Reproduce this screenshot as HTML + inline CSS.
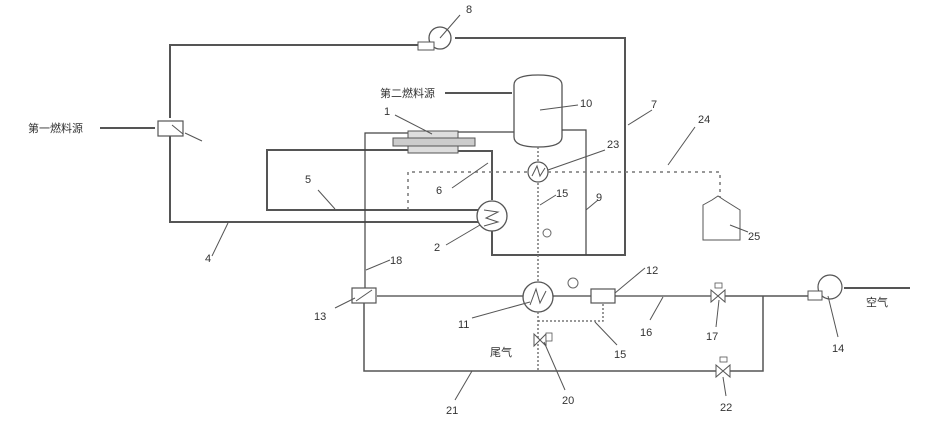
<!DOCTYPE html>
<html><head><meta charset="utf-8"><style>
html,body{margin:0;padding:0;background:#fff}
svg{display:block}
text{font-family:"Liberation Sans","Noto Sans CJK SC",sans-serif;font-size:11px;fill:#333}
.p{stroke:#555;stroke-width:2;fill:none}
.t{stroke:#444;stroke-width:1.2;fill:none}
.d{stroke:#777;stroke-width:1.5;fill:none;stroke-dasharray:3,4}
.l{stroke:#555;stroke-width:1;fill:none}
</style></head><body>
<svg width="925" height="421" viewBox="0 0 925 421" xmlns="http://www.w3.org/2000/svg">
<polyline class="p" points="418,45 170,45 170,118"/>
<polyline class="p" points="455,38 625,38 625,255 492,255 492,231"/>
<circle cx="440" cy="38" r="11" fill="#fff" stroke="#555" stroke-width="1.3"/>
<rect x="418" y="42" width="16" height="8" fill="#fff" stroke="#555" stroke-width="1"/>
<rect x="158" y="121" width="25" height="15" fill="#fff" stroke="#555" stroke-width="1.2"/>
<line class="l" x1="172" y1="125" x2="183" y2="134"/>
<polyline class="p" points="170,136 170,222 478,222"/>
<line class="p" x1="100" y1="128" x2="155" y2="128"/>
<polyline class="p" points="408,150 267,150 267,210 478,210"/>
<polyline class="t" points="410,133 365,133 365,288"/>
<rect x="408" y="131" width="50" height="7" fill="#ddd" stroke="#555" stroke-width="1"/>
<rect x="393" y="138" width="82" height="8" fill="#ccc" stroke="#555" stroke-width="1"/>
<rect x="408" y="146" width="50" height="7" fill="#ddd" stroke="#555" stroke-width="1"/>
<line class="t" x1="458" y1="132" x2="514" y2="132"/>
<polyline class="p" points="458,151 492,151 492,200"/>
<circle cx="492" cy="216" r="15" fill="#fff" stroke="#555" stroke-width="1.3"/>
<polyline class="l" points="484,210 498,212 486,218 498,222 484,226"/>
<path d="M514,85 Q514,75 538,75 Q562,75 562,85 L562,137 Q562,147 538,147 Q514,147 514,137 Z" fill="#fff" stroke="#555" stroke-width="1.3"/>
<line class="p" x1="445" y1="93" x2="512" y2="93"/>
<polyline class="t" points="562,130 586,130 586,255"/>
<line class="d" x1="538" y1="147" x2="538" y2="281" style="stroke-dasharray:2,2"/>
<circle cx="538" cy="172" r="10" fill="#fff" stroke="#555" stroke-width="1.2"/>
<polyline class="l" points="532,176 537,166 540,176 545,168"/>
<circle cx="547" cy="233" r="4" fill="#fff" stroke="#666"/>
<polyline class="d" points="408,210 408,172 528,172"/>
<polyline class="d" points="548,172 720,172 720,200"/>
<path d="M703,240 L703,205 L712,200 L718,196 L724,200 L740,210 L740,240 Z" fill="#fff" stroke="#555" stroke-width="1"/>
<!-- bottom -->
<rect x="352" y="288" width="24" height="15" fill="#fff" stroke="#555" stroke-width="1.2"/>
<line class="l" x1="356" y1="301" x2="372" y2="290"/>
<line class="t" x1="377" y1="296" x2="523" y2="296"/>
<circle cx="538" cy="297" r="15" fill="#fff" stroke="#555" stroke-width="1.3"/>
<polyline class="l" points="530,305 536,289 540,303 546,291"/>
<line class="t" x1="553" y1="296" x2="591" y2="296"/>
<circle cx="573" cy="283" r="5" fill="#fff" stroke="#666"/>
<rect x="591" y="289" width="24" height="14" fill="#fff" stroke="#555" stroke-width="1.2"/>
<line class="t" x1="615" y1="296" x2="711" y2="296"/>
<polygon points="711,290 725,302 725,290 711,302" fill="#fff" stroke="#555"/>
<rect x="715" y="283" width="7" height="5" fill="#fff" stroke="#555" stroke-width="0.8"/>
<line class="p" x1="725" y1="296" x2="808" y2="296" style="stroke-width:1.5"/>
<circle cx="830" cy="287" r="12" fill="#fff" stroke="#555" stroke-width="1.2"/>
<rect x="808" y="291" width="14" height="9" fill="#fff" stroke="#555" stroke-width="1"/>
<line class="p" x1="844" y1="288" x2="910" y2="288"/>
<polyline class="p" points="763,296 763,371 730,371" style="stroke-width:1.5"/>
<polygon points="716,365 730,377 730,365 716,377" fill="#fff" stroke="#555"/>
<rect x="720" y="357" width="7" height="5" fill="#fff" stroke="#555" stroke-width="0.8"/>
<polyline class="p" points="716,371 364,371 364,303" style="stroke-width:1.5"/>
<line class="d" x1="538" y1="312" x2="538" y2="370" style="stroke-dasharray:2,2"/>
<polyline class="d" points="538,321 603,321 603,303" style="stroke-dasharray:2,2"/>
<polygon points="534,334 546,346 546,334 534,346" fill="#fff" stroke="#555"/>
<rect x="546" y="333" width="6" height="8" fill="#fff" stroke="#555" stroke-width="0.8"/>
<g class="l">
<line x1="440" y1="38" x2="460" y2="15"/>
<line x1="540" y1="110" x2="578" y2="105"/>
<line x1="628" y1="125" x2="652" y2="110"/>
<line x1="668" y1="165" x2="695" y2="127"/>
<line x1="548" y1="170" x2="605" y2="150"/>
<line x1="730" y1="225" x2="748" y2="232"/>
<line x1="586" y1="210" x2="598" y2="200"/>
<line x1="540" y1="205" x2="556" y2="195"/>
<line x1="395" y1="115" x2="432" y2="134"/>
<line x1="452" y1="188" x2="488" y2="163"/>
<line x1="318" y1="190" x2="335" y2="209"/>
<line x1="446" y1="245" x2="480" y2="225"/>
<line x1="212" y1="256" x2="228" y2="223"/>
<line x1="366" y1="270" x2="390" y2="260"/>
<line x1="185" y1="133" x2="202" y2="141"/>
<line x1="335" y1="308" x2="355" y2="298"/>
<line x1="472" y1="318" x2="530" y2="302"/>
<line x1="615" y1="293" x2="645" y2="268"/>
<line x1="595" y1="322" x2="617" y2="345"/>
<line x1="650" y1="320" x2="663" y2="297"/>
<line x1="716" y1="327" x2="719" y2="300"/>
<line x1="838" y1="337" x2="828" y2="296"/>
<line x1="565" y1="390" x2="544" y2="342"/>
<line x1="455" y1="400" x2="472" y2="371"/>
<line x1="726" y1="396" x2="723" y2="377"/>
</g>
<text x="466" y="13">8</text>
<text x="580" y="107">10</text>
<text x="651" y="108">7</text>
<text x="698" y="123">24</text>
<text x="607" y="148">23</text>
<text x="748" y="240">25</text>
<text x="596" y="201">9</text>
<text x="556" y="197">15</text>
<text x="384" y="115">1</text>
<text x="436" y="194">6</text>
<text x="305" y="183">5</text>
<text x="434" y="251">2</text>
<text x="205" y="262">4</text>
<text x="390" y="264">18</text>
<text x="314" y="320">13</text>
<text x="458" y="328">11</text>
<text x="646" y="274">12</text>
<text x="614" y="358">15</text>
<text x="640" y="336">16</text>
<text x="706" y="340">17</text>
<text x="832" y="352">14</text>
<text x="562" y="404">20</text>
<text x="446" y="414">21</text>
<text x="720" y="411">22</text>
<text x="28" y="132">第一燃料源</text>
<text x="380" y="97">第二燃料源</text>
<text x="490" y="356">尾气</text>
<text x="866" y="306">空气</text>
</svg>
</body></html>
